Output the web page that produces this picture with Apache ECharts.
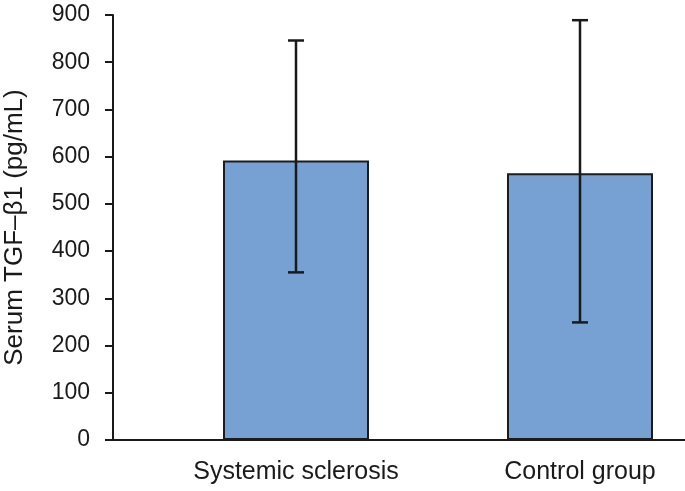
<!DOCTYPE html>
<html>
<head>
<meta charset="utf-8">
<script src="https://cdn.jsdelivr.net/npm/echarts@6/dist/echarts.min.js"></script>
<style>html,body{margin:0;padding:0;background:#fff}#c{width:685px;height:491px}</style>
</head>
<body>
<div id="c"></div>
<script>
const categories = ['Systemic sclerosis', 'Control group'];
const means = [592, 565];
const errLow = [355, 249];
const errHigh = [846, 889];
const yTicks = [0, 100, 200, 300, 400, 500, 600, 700, 800, 900];
const yName = 'Serum TGF\u2013\u03b21 (pg/mL)';

const font = '"Liberation Sans", Arial, Helvetica, sans-serif';
const ink = '#1a1a1a';
const chart = echarts.init(document.getElementById('c'), null, {renderer: 'canvas'});
chart.setOption({
  animation: false,
  backgroundColor: '#fff',
  grid: [
    {left: 113, right: 0, top: 15, bottom: 51, containLabel: false, outerBoundsMode: 'none'},
    {left: 154, width: 568, top: 15, bottom: 51, containLabel: false, outerBoundsMode: 'none'}
  ],
  xAxis: [
    {gridIndex: 0, type: 'value', min: 0, max: 1,
     axisLine: {show: true, lineStyle: {color: ink, width: 2}},
     axisTick: {show: false}, axisLabel: {show: false}, splitLine: {show: false}},
    {gridIndex: 1, type: 'category', data: categories,
     axisLine: {show: false}, axisTick: {show: false},
     axisLabel: {show: true, color: ink, fontSize: 25, fontFamily: font, margin: 20, interval: 0}}
  ],
  yAxis: [
    {gridIndex: 0, type: 'value', min: yTicks[0], max: yTicks[yTicks.length - 1], interval: 100,
     name: yName, nameLocation: 'middle', nameGap: 85,
     nameTextStyle: {color: ink, fontSize: 26, fontFamily: font},
     axisLine: {show: true, lineStyle: {color: ink, width: 2}},
     axisTick: {show: true, length: 8, lineStyle: {color: ink, width: 2}},
     axisLabel: {color: ink, fontSize: 23, fontFamily: font, margin: 23},
     splitLine: {show: false}},
    {gridIndex: 1, type: 'value', min: yTicks[0], max: yTicks[yTicks.length - 1], interval: 100,
     show: false, splitLine: {show: false}}
  ],
  series: [
    {type: 'bar', xAxisIndex: 1, yAxisIndex: 1, data: means, barWidth: 146,
     itemStyle: {color: '#76a1d2', borderColor: '#1c1c1c', borderWidth: 2}},
    {type: 'custom', xAxisIndex: 1, yAxisIndex: 1,
     data: categories.map((c, i) => [i, errLow[i], errHigh[i]]),
     renderItem: function (params, api) {
       const i = api.value(0);
       const lo = api.coord([i, api.value(1)]);
       const hi = api.coord([i, api.value(2)]);
       const hw = 8;
       const st = {stroke: ink, lineWidth: 2.5};
       return {type: 'group', children: [
         {type: 'line', shape: {x1: hi[0], y1: hi[1], x2: lo[0], y2: lo[1]}, style: st},
         {type: 'line', shape: {x1: hi[0] - hw, y1: hi[1], x2: hi[0] + hw, y2: hi[1]}, style: st},
         {type: 'line', shape: {x1: lo[0] - hw, y1: lo[1], x2: lo[0] + hw, y2: lo[1]}, style: st}
       ]};
     },
     z: 10}
  ]
});
</script>
</body>
</html>
